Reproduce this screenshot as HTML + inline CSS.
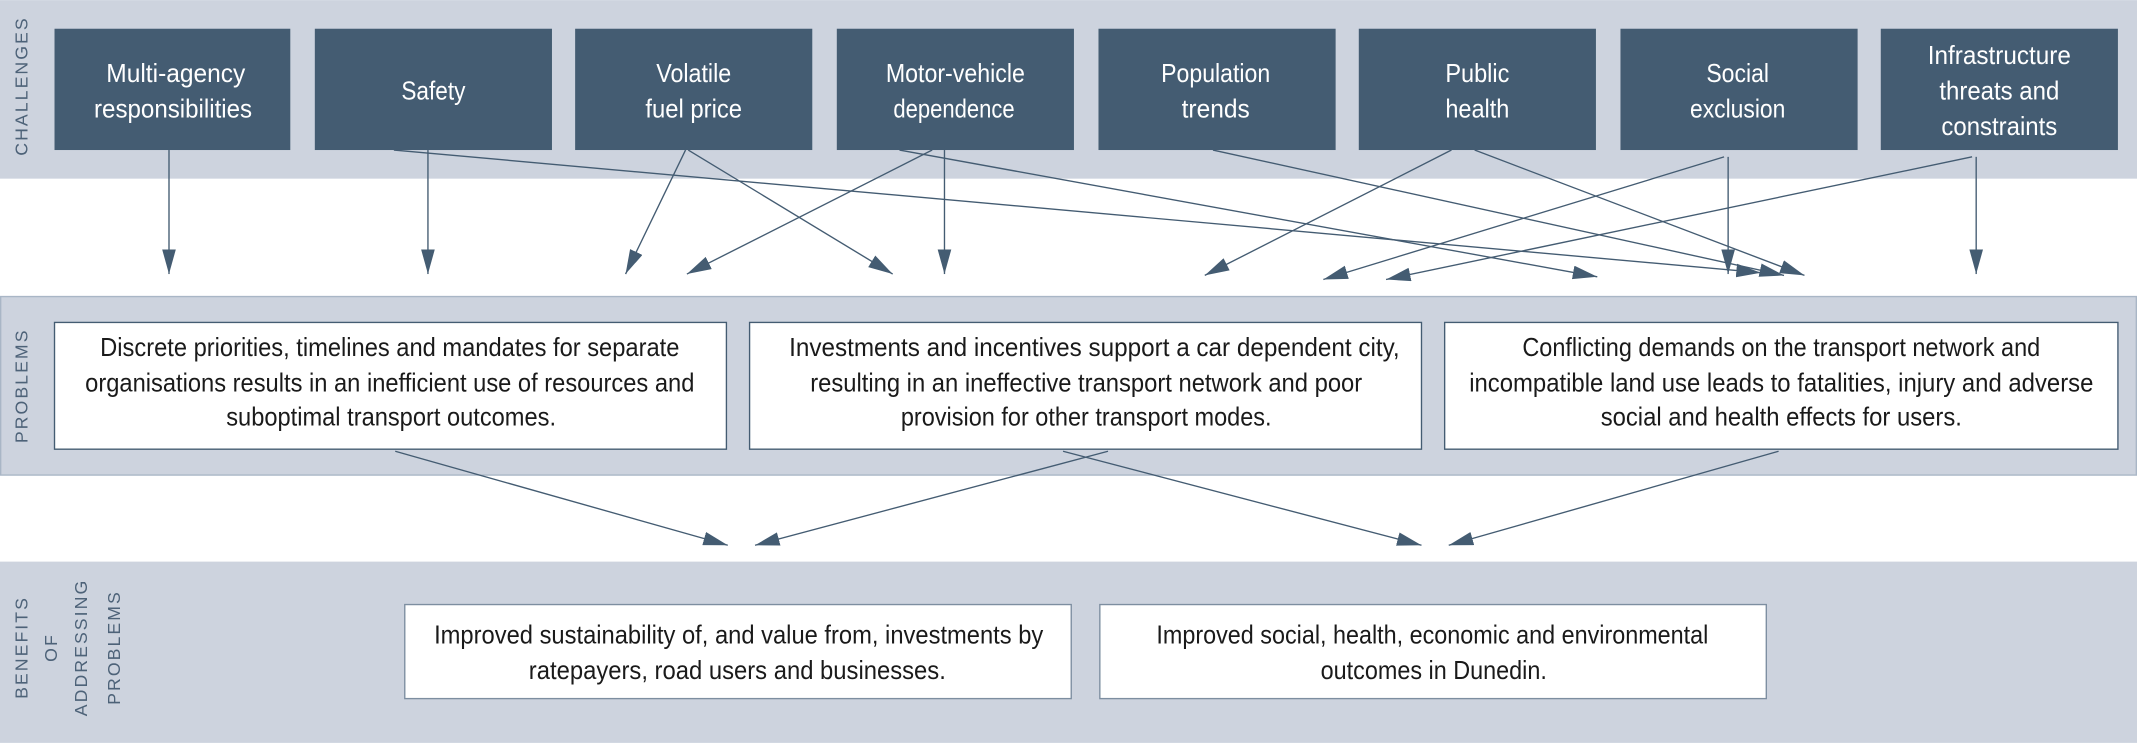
<!DOCTYPE html>
<html><head><meta charset="utf-8"><style>
html,body{margin:0;padding:0;background:#fff;}
svg{display:block;}
</style></head><body>
<svg width="2137" height="743" viewBox="0 0 1568 545" xmlns="http://www.w3.org/2000/svg" font-family="'Liberation Sans Narrow','Liberation Sans',sans-serif">
<defs>
<marker id="a" markerUnits="userSpaceOnUse" markerWidth="20" markerHeight="12" refX="18" refY="5" orient="auto">
<path d="M0,0 L18,5 L0,10 Z" fill="#445c72"/>
</marker>
</defs>
<rect x="0" y="0" width="1568" height="131" fill="#cdd3de"/>
<rect x="0.5" y="217.5" width="1567" height="131" fill="#cdd3de" stroke="#a9b6c6"/>
<rect x="0" y="412" width="1568" height="133" fill="#cdd3de"/>
<g fill="#4d6278" font-family="'Liberation Sans',sans-serif" font-size="13" letter-spacing="1.5" text-anchor="middle">
<text transform="translate(20,63) rotate(-90)">CHALLENGES</text>
<text transform="translate(20,283) rotate(-90)">PROBLEMS</text>
<text transform="translate(20,475) rotate(-90)">BENEFITS</text>
<text transform="translate(42,475) rotate(-90)">OF</text>
<text transform="translate(64,475) rotate(-90)">ADDRESSING</text>
<text transform="translate(88,475) rotate(-90)">PROBLEMS</text>
</g>
<g fill="#445c72">
<rect x="40" y="21" width="173" height="89"/>
<rect x="231" y="21" width="174" height="89"/>
<rect x="422" y="21" width="174" height="89"/>
<rect x="614" y="21" width="174" height="89"/>
<rect x="806" y="21" width="174" height="89"/>
<rect x="997" y="21" width="174" height="89"/>
<rect x="1189" y="21" width="174" height="89"/>
<rect x="1380" y="21" width="174" height="89"/>
</g>
<g fill="#fff" font-size="19" text-anchor="middle">
<text x="129" y="60" textLength="102" lengthAdjust="spacingAndGlyphs">Multi-agency</text>
<text x="127" y="86" textLength="116" lengthAdjust="spacingAndGlyphs">responsibilities</text>
<text x="318" y="73" textLength="47" lengthAdjust="spacingAndGlyphs">Safety</text>
<text x="509" y="60" textLength="55" lengthAdjust="spacingAndGlyphs">Volatile</text>
<text x="509" y="86" textLength="71" lengthAdjust="spacingAndGlyphs">fuel price</text>
<text x="701" y="60" textLength="102" lengthAdjust="spacingAndGlyphs">Motor-vehicle</text>
<text x="700" y="86" textLength="89" lengthAdjust="spacingAndGlyphs">dependence</text>
<text x="892" y="60" textLength="80" lengthAdjust="spacingAndGlyphs">Population</text>
<text x="892" y="86" textLength="50" lengthAdjust="spacingAndGlyphs">trends</text>
<text x="1084" y="60" textLength="47" lengthAdjust="spacingAndGlyphs">Public</text>
<text x="1084" y="86" textLength="47" lengthAdjust="spacingAndGlyphs">health</text>
<text x="1275" y="60" textLength="46" lengthAdjust="spacingAndGlyphs">Social</text>
<text x="1275" y="86" textLength="70" lengthAdjust="spacingAndGlyphs">exclusion</text>
<text x="1467" y="47" textLength="105" lengthAdjust="spacingAndGlyphs">Infrastructure</text>
<text x="1467" y="73" textLength="88" lengthAdjust="spacingAndGlyphs">threats and</text>
<text x="1467" y="99" textLength="85" lengthAdjust="spacingAndGlyphs">constraints</text>
</g>
<g fill="#fff" stroke="#445c72" stroke-width="1">
<rect x="40" y="236.5" width="493" height="93"/>
<rect x="550" y="236.5" width="493" height="93"/>
<rect x="1060" y="236.5" width="494" height="93"/>
<rect x="297" y="443.5" width="489" height="69" stroke="#7d8ea0"/>
<rect x="807" y="443.5" width="489" height="69" stroke="#7d8ea0"/>
</g>
<g fill="#1a1a1a" font-size="19" text-anchor="middle">
<text x="286" y="261" textLength="425" lengthAdjust="spacingAndGlyphs">Discrete priorities, timelines and mandates for separate</text>
<text x="286" y="287" textLength="447" lengthAdjust="spacingAndGlyphs">organisations results in an inefficient use of resources and</text>
<text x="287" y="312" textLength="242" lengthAdjust="spacingAndGlyphs">suboptimal transport outcomes.</text>
<text x="803" y="261" textLength="448" lengthAdjust="spacingAndGlyphs">Investments and incentives support a car dependent city,</text>
<text x="797" y="287" textLength="405" lengthAdjust="spacingAndGlyphs">resulting in an ineffective transport network and poor</text>
<text x="797" y="312" textLength="272" lengthAdjust="spacingAndGlyphs">provision for other transport modes.</text>
<text x="1307" y="261" textLength="380" lengthAdjust="spacingAndGlyphs">Conflicting demands on the transport network and</text>
<text x="1307" y="287" textLength="458" lengthAdjust="spacingAndGlyphs">incompatible land use leads to fatalities, injury and adverse</text>
<text x="1307" y="312" textLength="265" lengthAdjust="spacingAndGlyphs">social and health effects for users.</text>
<text x="542" y="472" textLength="447" lengthAdjust="spacingAndGlyphs">Improved sustainability of, and value from, investments by</text>
<text x="541" y="498" textLength="306" lengthAdjust="spacingAndGlyphs">ratepayers, road users and businesses.</text>
<text x="1051" y="472" textLength="405" lengthAdjust="spacingAndGlyphs">Improved social, health, economic and environmental</text>
<text x="1052" y="498" textLength="166" lengthAdjust="spacingAndGlyphs">outcomes in Dunedin.</text>
</g>
<g stroke="#445c72" stroke-width="1" fill="none" marker-end="url(#a)">
<line x1="124" y1="110" x2="124" y2="201"/>
<line x1="314" y1="110" x2="314" y2="201"/>
<line x1="289" y1="110" x2="1292" y2="200"/>
<line x1="503" y1="110" x2="459" y2="201"/>
<line x1="505" y1="110" x2="655" y2="201"/>
<line x1="684" y1="110" x2="504" y2="201"/>
<line x1="693" y1="110" x2="693" y2="201"/>
<line x1="660" y1="110" x2="1172" y2="203"/>
<line x1="890" y1="110" x2="1309" y2="202"/>
<line x1="1065" y1="110" x2="884" y2="202"/>
<line x1="1082" y1="110" x2="1324" y2="202"/>
<line x1="1265" y1="115" x2="971" y2="205"/>
<line x1="1268" y1="115" x2="1268" y2="201"/>
<line x1="1447" y1="115" x2="1017" y2="205"/>
<line x1="1450" y1="115" x2="1450" y2="201"/>
<line x1="290" y1="331" x2="534" y2="400"/>
<line x1="813" y1="331" x2="554" y2="400"/>
<line x1="780" y1="331" x2="1043" y2="400"/>
<line x1="1305" y1="331" x2="1063" y2="400"/>
</g>
</svg>
</body></html>
